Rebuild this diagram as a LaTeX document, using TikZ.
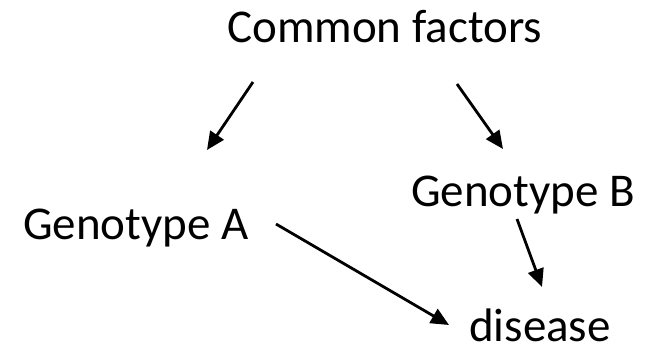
\documentclass[tikz,border=0pt]{standalone}
\usepackage{fontspec}
\setmainfont{Carlito}
\usetikzlibrary{arrows.meta}
\begin{document}
\begin{tikzpicture}[x=1pt,y=-1pt,
  lbl/.style={inner sep=0pt,anchor=base west,font=\fontsize{47}{56}\selectfont},
  arr/.style={line width=2.8pt,-{Triangle[length=18pt,width=16pt]}}]
\useasboundingbox (0,0) rectangle (664,344);
\node[lbl] (cf) at (227,43) {Common factors};
\node[lbl] (ga) at (23,240) {Genotype A};
\node[lbl] (gb) at (411,207) {Genotype B};
\node[lbl] (dis) at (469,342) {disease};
\coordinate (cfL) at (253,82);
\coordinate (gaT) at (207,150);
\coordinate (cfR) at (457,84);
\coordinate (gbT) at (503,149);
\coordinate (gaR) at (276,224);
\coordinate (disL) at (449,325);
\coordinate (gbB) at (517,219);
\coordinate (disT) at (542,287);
\draw[arr] (cfL) -- (gaT);
\draw[arr] (cfR) -- (gbT);
\draw[arr] (gaR) -- (disL);
\draw[arr] (gbB) -- (disT);
\end{tikzpicture}
\end{document}
